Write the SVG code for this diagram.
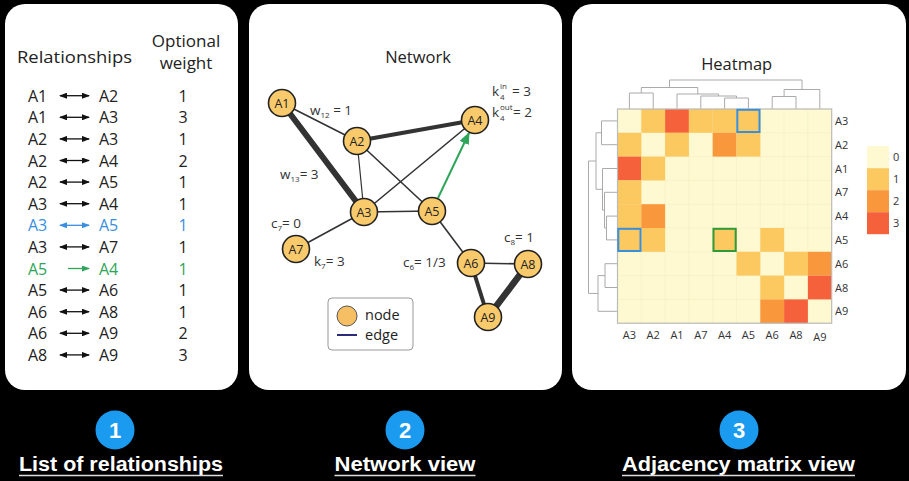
<svg xmlns="http://www.w3.org/2000/svg" width="909" height="481" viewBox="0 0 909 481">
<defs>
<style>
.t{font-family:"Open Sans","Liberation Sans",sans-serif;fill:#222}
.row{font-size:16px}
.blue{fill:#3a8fe0}
.green{fill:#2ea65a}
.nl{font-family:"Open Sans","Liberation Sans",sans-serif;font-size:12.5px;fill:#222;text-anchor:middle}
.lab{font-family:"Open Sans","Liberation Sans",sans-serif;font-size:13.5px;fill:#333}
.sub{font-size:8px}
.node{fill:#f9ca6b;stroke:#222;stroke-width:1.6}
.e{stroke:#333;stroke-linecap:round;fill:none}
.den{stroke:#aaa;stroke-width:1;fill:none}
.hl{font-family:"Open Sans","Liberation Sans",sans-serif;font-size:11px;fill:#333}
.c0{fill:#fef9d1;stroke:#f4edc2;stroke-width:0.6}
.c1{fill:#fbc960}
.c2{fill:#f8973b}
.c3{fill:#f4613a}
.bt{font-family:"Liberation Sans",Arial,sans-serif;font-weight:bold;font-size:20px;fill:#fff;text-anchor:middle}
.num{font-family:"Liberation Sans",Arial,sans-serif;font-weight:bold;font-size:22px;fill:#fff;text-anchor:middle}
</style>
<marker id="ak" markerUnits="userSpaceOnUse" markerWidth="8" markerHeight="6" refX="7" refY="3" orient="auto-start-reverse"><path d="M0,0 L8,3 L0,6 z" fill="#111"/></marker>
<marker id="ab" markerUnits="userSpaceOnUse" markerWidth="8" markerHeight="6" refX="7" refY="3" orient="auto-start-reverse"><path d="M0,0 L8,3 L0,6 z" fill="#3a8fe0"/></marker>
<marker id="ag" markerUnits="userSpaceOnUse" markerWidth="8" markerHeight="6" refX="7" refY="3" orient="auto-start-reverse"><path d="M0,0 L8,3 L0,6 z" fill="#2ea65a"/></marker>
<marker id="agn" markerUnits="userSpaceOnUse" markerWidth="12" markerHeight="10" refX="11" refY="5" orient="auto"><path d="M0,0 L12,5 L0,10 z" fill="#2ea65a"/></marker>
</defs>
<rect width="909" height="481" fill="#000"/>

<!-- Panel 1 -->
<g id="panel1">
<rect x="5" y="4" width="233" height="386" rx="20" fill="#fff"/>
<text class="t" x="17" y="63" font-size="17" textLength="115" lengthAdjust="spacingAndGlyphs">Relationships</text>
<text class="t" x="186" y="47" font-size="17" text-anchor="middle">Optional</text>
<text class="t" x="186" y="69" font-size="17" text-anchor="middle">weight</text>
<g class="t row">
<text x="28" y="101.7">A1</text><text x="99" y="101.7">A2</text><text x="183" y="101.7" text-anchor="middle">1</text>
<text x="28" y="123.3">A1</text><text x="99" y="123.3">A3</text><text x="183" y="123.3" text-anchor="middle">3</text>
<text x="28" y="144.9">A2</text><text x="99" y="144.9">A3</text><text x="183" y="144.9" text-anchor="middle">1</text>
<text x="28" y="166.5">A2</text><text x="99" y="166.5">A4</text><text x="183" y="166.5" text-anchor="middle">2</text>
<text x="28" y="188.1">A2</text><text x="99" y="188.1">A5</text><text x="183" y="188.1" text-anchor="middle">1</text>
<text x="28" y="209.7">A3</text><text x="99" y="209.7">A4</text><text x="183" y="209.7" text-anchor="middle">1</text>
<text x="28" y="231.3" class="blue">A3</text><text x="99" y="231.3" class="blue">A5</text><text x="183" y="231.3" text-anchor="middle" class="blue">1</text>
<text x="28" y="252.9">A3</text><text x="99" y="252.9">A7</text><text x="183" y="252.9" text-anchor="middle">1</text>
<text x="28" y="274.5" class="green">A5</text><text x="99" y="274.5" class="green">A4</text><text x="183" y="274.5" text-anchor="middle" class="green">1</text>
<text x="28" y="296.1">A5</text><text x="99" y="296.1">A6</text><text x="183" y="296.1" text-anchor="middle">1</text>
<text x="28" y="317.7">A6</text><text x="99" y="317.7">A8</text><text x="183" y="317.7" text-anchor="middle">1</text>
<text x="28" y="339.3">A6</text><text x="99" y="339.3">A9</text><text x="183" y="339.3" text-anchor="middle">2</text>
<text x="28" y="360.9">A8</text><text x="99" y="360.9">A9</text><text x="183" y="360.9" text-anchor="middle">3</text>
</g>
<g stroke-width="1.3" fill="none">
<line x1="60" y1="95.7" x2="89" y2="95.7" stroke="#111" marker-start="url(#ak)" marker-end="url(#ak)"/>
<line x1="60" y1="117.3" x2="89" y2="117.3" stroke="#111" marker-start="url(#ak)" marker-end="url(#ak)"/>
<line x1="60" y1="138.9" x2="89" y2="138.9" stroke="#111" marker-start="url(#ak)" marker-end="url(#ak)"/>
<line x1="60" y1="160.5" x2="89" y2="160.5" stroke="#111" marker-start="url(#ak)" marker-end="url(#ak)"/>
<line x1="60" y1="182.1" x2="89" y2="182.1" stroke="#111" marker-start="url(#ak)" marker-end="url(#ak)"/>
<line x1="60" y1="203.7" x2="89" y2="203.7" stroke="#111" marker-start="url(#ak)" marker-end="url(#ak)"/>
<line x1="60" y1="225.3" x2="89" y2="225.3" stroke="#3a8fe0" marker-start="url(#ab)" marker-end="url(#ab)"/>
<line x1="60" y1="246.9" x2="89" y2="246.9" stroke="#111" marker-start="url(#ak)" marker-end="url(#ak)"/>
<line x1="68" y1="268.5" x2="89" y2="268.5" stroke="#2ea65a" marker-end="url(#ag)"/>
<line x1="60" y1="290.1" x2="89" y2="290.1" stroke="#111" marker-start="url(#ak)" marker-end="url(#ak)"/>
<line x1="60" y1="311.7" x2="89" y2="311.7" stroke="#111" marker-start="url(#ak)" marker-end="url(#ak)"/>
<line x1="60" y1="333.3" x2="89" y2="333.3" stroke="#111" marker-start="url(#ak)" marker-end="url(#ak)"/>
<line x1="60" y1="354.9" x2="89" y2="354.9" stroke="#111" marker-start="url(#ak)" marker-end="url(#ak)"/>
</g>
</g>

<!-- Panel 2 -->
<g id="panel2">
<rect x="249" y="4" width="313" height="386" rx="20" fill="#fff"/>
<text class="t" x="418" y="63" font-size="16.5" text-anchor="middle">Network</text>
</g>
<g id="connectors">
<line class="e" x1="282" y1="103" x2="357" y2="141" stroke-width="1.6"/>
<line class="e" x1="282" y1="103" x2="364" y2="212" stroke-width="6"/>
<line class="e" x1="357" y1="141" x2="364" y2="212" stroke="#2b2b80" stroke-width="1.2"/>
<line class="e" x1="357" y1="141" x2="475" y2="120" stroke-width="4"/>
<line class="e" x1="357" y1="141" x2="432" y2="211" stroke-width="1.6"/>
<line class="e" x1="364" y1="212" x2="475" y2="120" stroke-width="1.6"/>
<line class="e" x1="364" y1="212" x2="432" y2="211" stroke="#3a8fe0" stroke-width="1.6"/>
<line class="e" x1="364" y1="212" x2="296" y2="249" stroke-width="1.6"/>
<line class="e" x1="432" y1="211" x2="471" y2="263" stroke-width="1.6"/>
<line class="e" x1="471" y1="263" x2="528" y2="264" stroke-width="1.6"/>
<line class="e" x1="471" y1="263" x2="488" y2="317" stroke-width="4"/>
<line class="e" x1="528" y1="264" x2="488" y2="317" stroke-width="6.5"/>
<line x1="438" y1="198" x2="469" y2="133" stroke="#2ea65a" stroke-width="2" marker-end="url(#agn)"/>
</g>
<g id="node-A1"><circle class="node" cx="282" cy="103" r="13.5"/><text class="nl" x="282" y="107.5">A1</text></g>
<g id="node-A2"><circle class="node" cx="357" cy="141" r="13.5"/><text class="nl" x="357" y="145.5">A2</text></g>
<g id="node-A3"><circle class="node" cx="364" cy="212" r="13.5"/><text class="nl" x="364" y="216.5">A3</text></g>
<g id="node-A4"><circle class="node" cx="475" cy="120" r="13.5"/><text class="nl" x="475" y="124.5">A4</text></g>
<g id="node-A5"><circle class="node" cx="432" cy="211" r="13.5"/><text class="nl" x="432" y="215.5">A5</text></g>
<g id="node-A6"><circle class="node" cx="471" cy="263" r="13.5"/><text class="nl" x="471" y="267.5">A6</text></g>
<g id="node-A7"><circle class="node" cx="296" cy="249" r="13.5"/><text class="nl" x="296" y="253.5">A7</text></g>
<g id="node-A8"><circle class="node" cx="528" cy="264" r="13.5"/><text class="nl" x="528" y="268.5">A8</text></g>
<g id="node-A9"><circle class="node" cx="488" cy="317" r="13.5"/><text class="nl" x="488" y="321.5">A9</text></g>
<g id="net-labels" class="lab">
<text x="310" y="115">w<tspan class="sub" dy="3">12</tspan><tspan dy="-3"> = 1</tspan></text>
<text x="280" y="179">w<tspan class="sub" dy="3">13</tspan><tspan dy="-3">= 3</tspan></text>
<text x="492" y="96">k</text><text class="sub" x="500" y="89">in</text><text class="sub" x="500" y="100">4</text><text x="512" y="96">= 3</text>
<text x="492" y="117">k</text><text class="sub" x="500" y="110">out</text><text class="sub" x="500" y="121">4</text><text x="513" y="117">= 2</text>
<text x="271" y="228">c<tspan class="sub" dy="3">7</tspan><tspan dy="-3">= 0</tspan></text>
<text x="314" y="266">k<tspan class="sub" dy="3">7</tspan><tspan dy="-3">= 3</tspan></text>
<text x="403" y="267">c<tspan class="sub" dy="3">6</tspan><tspan dy="-3">= 1/3</tspan></text>
<text x="504" y="242">c<tspan class="sub" dy="3">8</tspan><tspan dy="-3">= 1</tspan></text>
</g>
<g id="net-legend">
<rect x="328" y="298" width="85" height="52" rx="4" fill="#fff" stroke="#999" stroke-width="1"/>
<circle cx="347" cy="316" r="10" fill="#f6bf63" stroke="#555" stroke-width="1"/>
<text class="t" x="365" y="320" font-size="14.5">node</text>
<line x1="337" y1="335" x2="357" y2="335" stroke="#2b2b7a" stroke-width="2"/>
<text class="t" x="365" y="340" font-size="14.5">edge</text>
</g>

<!-- Panel 3 -->
<g id="panel3">
<rect x="572" y="4" width="334" height="386" rx="20" fill="#fff"/>
<text class="t" x="736.7" y="70" font-size="16.5" text-anchor="middle">Heatmap</text>
<g id="dendro-top" class="den">
<path d="M629.4,109 V93 H653.2 V109"/>
<path d="M724.6,109 V98 H748.4 V109"/>
<path d="M700.8,109 V96 H736.5 V98"/>
<path d="M677,109 V94 H718.6 V96"/>
<path d="M641.3,93 V87.5 H697.8 V94"/>
<path d="M772.2,109 V96.5 H796 V109"/>
<path d="M784.1,96.5 V89.5 H819.8 V109"/>
<path d="M669.5,87.5 V80 H802 V89.5"/>
</g>
<g id="dendro-left" class="den">
<path d="M617.5,120.9 H601.5 V144.7 H617.5"/>
<path d="M617.5,216.1 H606.5 V239.9 H617.5"/>
<path d="M617.5,192.3 H604.5 V228 H606.5"/>
<path d="M617.5,168.5 H602.5 V210.15 H604.5"/>
<path d="M601.5,132.8 H596 V189.3 H602.5"/>
<path d="M617.5,263.7 H605 V287.5 H617.5"/>
<path d="M605,275.6 H598 V311.3 H617.5"/>
<path d="M596,161 H588.5 V293.45 H598"/>
</g>
<g id="heatmap">
<rect x="617.5" y="109" width="214.2" height="214.2" class="c0"/>
<g class="c0">
<path d="M641.3,109V323.2M665.1,109V323.2M688.9,109V323.2M712.7,109V323.2M736.5,109V323.2M760.3,109V323.2M784.1,109V323.2M807.9,109V323.2M617.5,132.8H831.7M617.5,156.6H831.7M617.5,180.4H831.7M617.5,204.2H831.7M617.5,228H831.7M617.5,251.8H831.7M617.5,275.6H831.7M617.5,299.4H831.7" fill="none"/>
</g>
<rect class="c1" x="641.3" y="109" width="23.8" height="23.8"/>
<rect class="c3" x="665.1" y="109" width="23.8" height="23.8"/>
<rect class="c1" x="688.9" y="109" width="23.8" height="23.8"/>
<rect class="c1" x="712.7" y="109" width="23.8" height="23.8"/>
<rect class="c1" x="736.5" y="109" width="23.8" height="23.8"/>
<rect class="c1" x="617.5" y="132.8" width="23.8" height="23.8"/>
<rect class="c1" x="665.1" y="132.8" width="23.8" height="23.8"/>
<rect class="c2" x="712.7" y="132.8" width="23.8" height="23.8"/>
<rect class="c1" x="736.5" y="132.8" width="23.8" height="23.8"/>
<rect class="c3" x="617.5" y="156.6" width="23.8" height="23.8"/>
<rect class="c1" x="641.3" y="156.6" width="23.8" height="23.8"/>
<rect class="c1" x="617.5" y="180.4" width="23.8" height="23.8"/>
<rect class="c1" x="617.5" y="204.2" width="23.8" height="23.8"/>
<rect class="c2" x="641.3" y="204.2" width="23.8" height="23.8"/>
<rect class="c1" x="617.5" y="228" width="23.8" height="23.8"/>
<rect class="c1" x="641.3" y="228" width="23.8" height="23.8"/>
<rect class="c1" x="712.7" y="228" width="23.8" height="23.8"/>
<rect class="c1" x="760.3" y="228" width="23.8" height="23.8"/>
<rect class="c1" x="736.5" y="251.8" width="23.8" height="23.8"/>
<rect class="c1" x="784.1" y="251.8" width="23.8" height="23.8"/>
<rect class="c2" x="807.9" y="251.8" width="23.8" height="23.8"/>
<rect class="c1" x="760.3" y="275.6" width="23.8" height="23.8"/>
<rect class="c3" x="807.9" y="275.6" width="23.8" height="23.8"/>
<rect class="c2" x="760.3" y="299.4" width="23.8" height="23.8"/>
<rect class="c3" x="784.1" y="299.4" width="23.8" height="23.8"/>
<rect x="617.5" y="109" width="214.2" height="214.2" fill="none" stroke="#bbb" stroke-width="1.2"/>
<rect x="737.3" y="109.8" width="22.2" height="22.2" fill="none" stroke="#3a8fdb" stroke-width="2"/>
<rect x="618.3" y="228.8" width="22.2" height="22.2" fill="none" stroke="#3a8fdb" stroke-width="2"/>
<rect x="713.5" y="228.8" width="22.2" height="22.2" fill="none" stroke="#2e9a3a" stroke-width="2"/>
</g>
<g class="hl">
<text x="835" y="125">A3</text><text x="835" y="148.8">A2</text><text x="835" y="172.6">A1</text>
<text x="835" y="196.4">A7</text><text x="835" y="220.2">A4</text><text x="835" y="244">A5</text>
<text x="835" y="267.8">A6</text><text x="835" y="291.6">A8</text><text x="835" y="315.4">A9</text>
</g>
<g class="hl" text-anchor="middle">
<text x="629.4" y="339">A3</text><text x="653.2" y="339">A2</text><text x="677" y="339">A1</text>
<text x="700.8" y="339">A7</text><text x="724.6" y="339">A4</text><text x="748.4" y="339">A5</text>
<text x="772.2" y="339">A6</text><text x="796" y="339">A8</text><text x="819.8" y="340.5">A9</text>
</g>
<g id="heat-legend">
<rect x="867" y="146" width="22" height="22.2" fill="#fef9d1"/>
<rect x="867" y="168.2" width="22" height="22" class="c1"/>
<rect x="867" y="190.2" width="22" height="22" class="c2"/>
<rect x="867" y="212.2" width="22" height="22" class="c3"/>
<g class="hl"><text x="893" y="161">0</text><text x="893" y="183">1</text><text x="893" y="205">2</text><text x="893" y="227">3</text></g>
</g>
</g>

<!-- Bottom captions -->
<g id="caption1">
<circle cx="115" cy="430" r="19.5" fill="#1a9bf0"/>
<text class="num" x="115" y="438">1</text>
<text class="bt" x="121" y="471" textLength="204" lengthAdjust="spacingAndGlyphs">List of relationships</text>
<line x1="19" y1="475.5" x2="223" y2="475.5" stroke="#ddd" stroke-width="1.5"/>
</g>
<g id="caption2">
<circle cx="405" cy="430" r="19.5" fill="#1a9bf0"/>
<text class="num" x="405" y="438">2</text>
<text class="bt" x="405" y="471" textLength="141" lengthAdjust="spacingAndGlyphs">Network view</text>
<line x1="334.5" y1="475.5" x2="475.5" y2="475.5" stroke="#ddd" stroke-width="1.5"/>
</g>
<g id="caption3">
<circle cx="739" cy="430" r="19.5" fill="#1a9bf0"/>
<text class="num" x="739" y="438">3</text>
<text class="bt" x="738.5" y="471" textLength="233" lengthAdjust="spacingAndGlyphs">Adjacency matrix view</text>
<line x1="622" y1="475.5" x2="855" y2="475.5" stroke="#ddd" stroke-width="1.5"/>
</g>
</svg>
